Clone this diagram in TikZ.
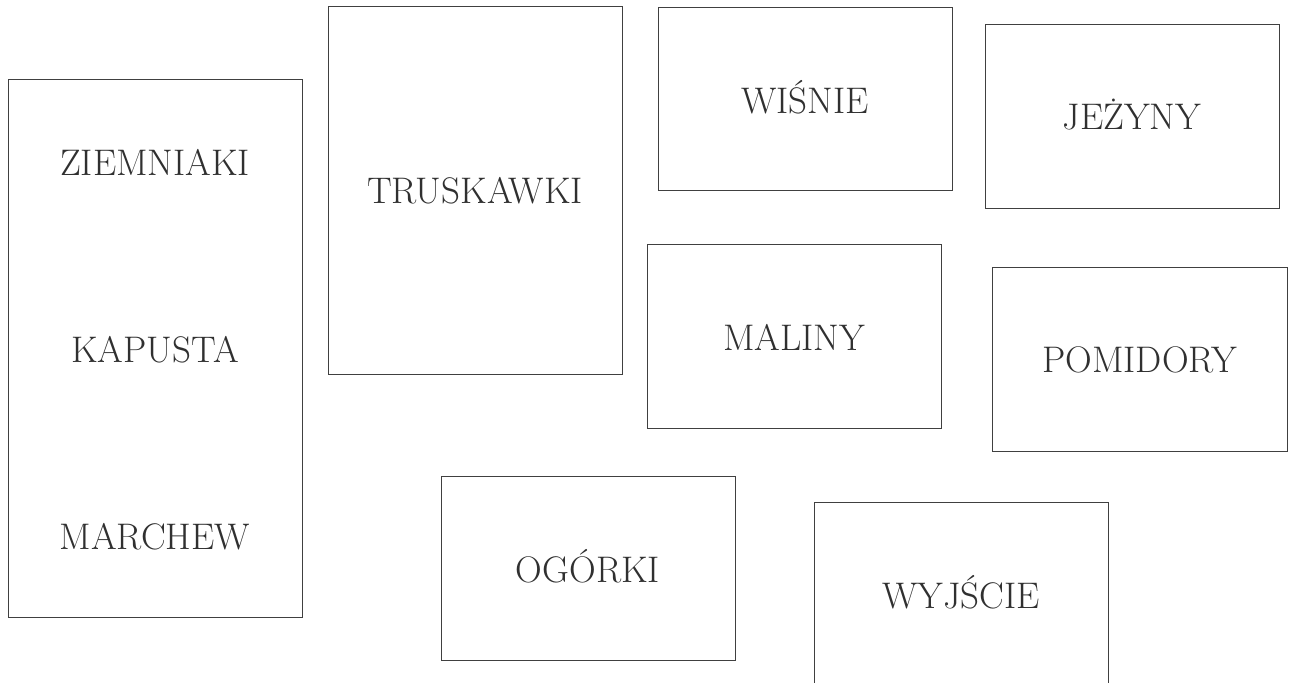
\documentclass[tikz,border=0pt]{standalone}
\usepackage{fontspec}
\definecolor{boxline}{HTML}{404040}
\definecolor{labeltext}{HTML}{303030}
\tikzset{
  bed/.style={draw=boxline, line width=0.9pt, rectangle, inner sep=0pt, anchor=north west},
  lbl/.style={text=labeltext, font=\fontsize{37}{40}\selectfont, inner sep=0pt, text height=25pt, text depth=0pt, anchor=center}
}
\begin{document}
\begin{tikzpicture}[x=1pt,y=-1pt]
\clip (0,0) rectangle (1289,682);
\fill[white] (0,0) rectangle (1289,682);
% boxes
\node[bed, minimum width=294pt, minimum height=538pt] (veg) at (8,79) {};
\node[bed, minimum width=294pt, minimum height=368pt] (trus) at (328,6) {};
\node[bed, minimum width=294pt, minimum height=183pt] (wis) at (658,7) {};
\node[bed, minimum width=294pt, minimum height=184pt] (jez) at (985,24) {};
\node[bed, minimum width=294pt, minimum height=184pt] (mal) at (647,244) {};
\node[bed, minimum width=295pt, minimum height=184pt] (pom) at (992,267) {};
\node[bed, minimum width=294pt, minimum height=184pt] (ogo) at (441,476) {};
\node[bed, minimum width=294pt, minimum height=190pt] (wyj) at (814,502) {};
% labels
\node[lbl] (ziem) at (155,163) {ZIEMNIAKI};
\node[lbl] (kap) at (155,350) {KAPUSTA};
\node[lbl] (mar) at (155,537) {MARCHEW};
\node[lbl] (trusl) at (475,191) {TRUSKAWKI};
\node[lbl] (wisl) at (805,101) {WIŚNIE};
\node[lbl] (jezl) at (1132,117) {JEŻYNY};
\node[lbl] (mall) at (794,338) {MALINY};
\node[lbl] (poml) at (1139.5,360) {POMIDORY};
\node[lbl] (ogol) at (588,570) {OGÓRKI};
\node[lbl] (wyjl) at (961,596) {WYJŚCIE};
\end{tikzpicture}
\end{document}
